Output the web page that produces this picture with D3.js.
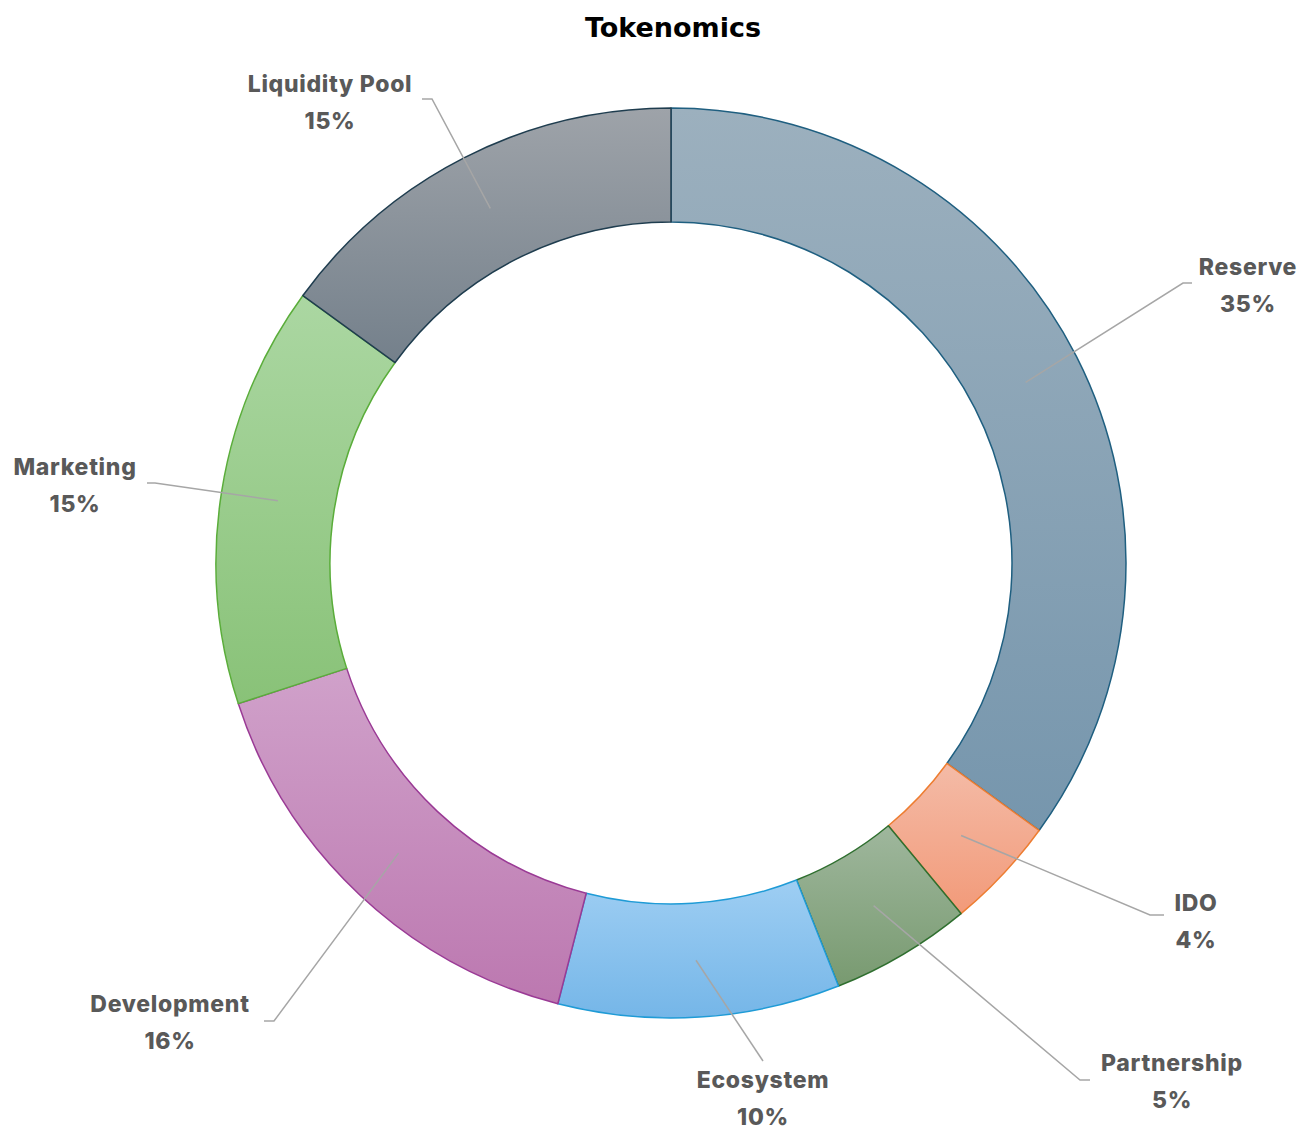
<!DOCTYPE html>
<html lang="en">
<head>
<meta charset="UTF-8">
<title>Tokenomics</title>
<style>
    body { margin: 0; background: #fff; }
    svg { display: block; }
</style>
</head>
<body>
<svg id="chart" width="1302" height="1132"></svg>
<script src="https://d3js.org/d3.v7.min.js"></script>
<script>
    // data
    const categories = ["Reserve", "IDO", "Partnership", "Ecosystem", "Development", "Marketing", "Liquidity Pool"];
    const values = [35, 4, 5, 10, 16, 15, 15];

    // colours: gradient top, gradient bottom, outline
    const topColors = ["#9cb0be", "#f4bba7", "#9fb79d", "#9ecef3", "#d0a1ca", "#abd7a2", "#9ea3a9"];
    const bottomColors = ["#7696ad", "#f29a79", "#789a70", "#75b6e8", "#bc78b0", "#89c278", "#74808b"];
    const strokeColors = ["#1f5f80", "#ed7d31", "#2f6f2f", "#1f9bd6", "#9a3a95", "#5aad3a", "#1f3d4f"];

    // label layout: text centre, elbow, end of the short horizontal tail
    const labelLayout = [
        { cx: 1248, cy: 287, elbow: [1183, 283], end: [1192, 283] },
        { cx: 1196, cy: 923, elbow: [1150, 915], end: [1164, 915] },
        { cx: 1172, cy: 1083, elbow: [1080, 1080], end: [1090, 1080] },
        { cx: 763, cy: 1100, elbow: [763, 1061], end: [763, 1061] },
        { cx: 170, cy: 1024, elbow: [274, 1021], end: [264, 1021] },
        { cx: 75, cy: 487, elbow: [155, 483], end: [147, 483] },
        { cx: 330, cy: 104, elbow: [432, 99], end: [422, 99] }
    ];

    const cx = 671, cy = 563, R = 455, r = 341;
    const svg = d3.select("#chart");

    // title
    svg.append("text")
        .attr("x", 673).attr("y", 29)
        .attr("text-anchor", "middle")
        .attr("dominant-baseline", "middle")
        .style("font-family", "'DejaVu Sans', Verdana, sans-serif")
        .style("font-weight", "bold")
        .style("font-size", "27px")
        .style("fill", "#000")
        .text("Tokenomics");

    const rows = categories.map((c, i) => ({ name: c, value: values[i], i }));

    const pie = d3.pie().value(d => d.value).sort(null);
    const arc = d3.arc().innerRadius(r).outerRadius(R);
    const arcs = pie(rows);

    // gradients, one per slice, running top to bottom of its own box
    const defs = svg.append("defs");
    arcs.forEach(a => {
        const g = defs.append("linearGradient")
            .attr("id", "grad" + a.data.i)
            .attr("x1", 0).attr("y1", 0).attr("x2", 0).attr("y2", 1);
        g.append("stop").attr("offset", "0%").attr("stop-color", topColors[a.data.i]);
        g.append("stop").attr("offset", "100%").attr("stop-color", bottomColors[a.data.i]);
    });

    const g = svg.append("g").attr("transform", `translate(${cx},${cy})`);

    g.selectAll("path.slice")
        .data(arcs)
        .enter().append("path")
        .attr("class", "slice")
        .attr("d", arc)
        .attr("fill", d => `url(#grad${d.data.i})`)
        .attr("stroke", d => strokeColors[d.data.i])
        .attr("stroke-width", 1.5)
        .attr("stroke-linejoin", "round");

    // leader lines
    const line = d3.line();
    svg.selectAll("path.leader")
        .data(arcs)
        .enter().append("path")
        .attr("class", "leader")
        .attr("d", d => {
            const c = arc.centroid(d);
            const L = labelLayout[d.data.i];
            return line([[c[0] + cx, c[1] + cy], L.elbow, L.end]);
        })
        .attr("fill", "none")
        .attr("stroke", "#a6a6a6")
        .attr("stroke-width", 1.5);

    // labels
    const labels = svg.selectAll("text.label")
        .data(arcs)
        .enter().append("text")
        .attr("class", "label")
        .attr("text-anchor", "middle")
        .style("font-family", "Inter, 'Noto Sans', sans-serif")
        .style("font-weight", 800)
        .style("font-size", "23px")
        .style("letter-spacing", "0.7px")
        .style("fill", "#595959");

    labels.append("tspan")
        .attr("x", d => labelLayout[d.data.i].cx)
        .attr("y", d => labelLayout[d.data.i].cy - 18)
        .attr("dominant-baseline", "middle")
        .text(d => d.data.name);

    labels.append("tspan")
        .attr("x", d => labelLayout[d.data.i].cx)
        .attr("y", d => labelLayout[d.data.i].cy + 19)
        .attr("dominant-baseline", "middle")
        .text(d => d.data.value + "%");
</script>
</body>
</html>
